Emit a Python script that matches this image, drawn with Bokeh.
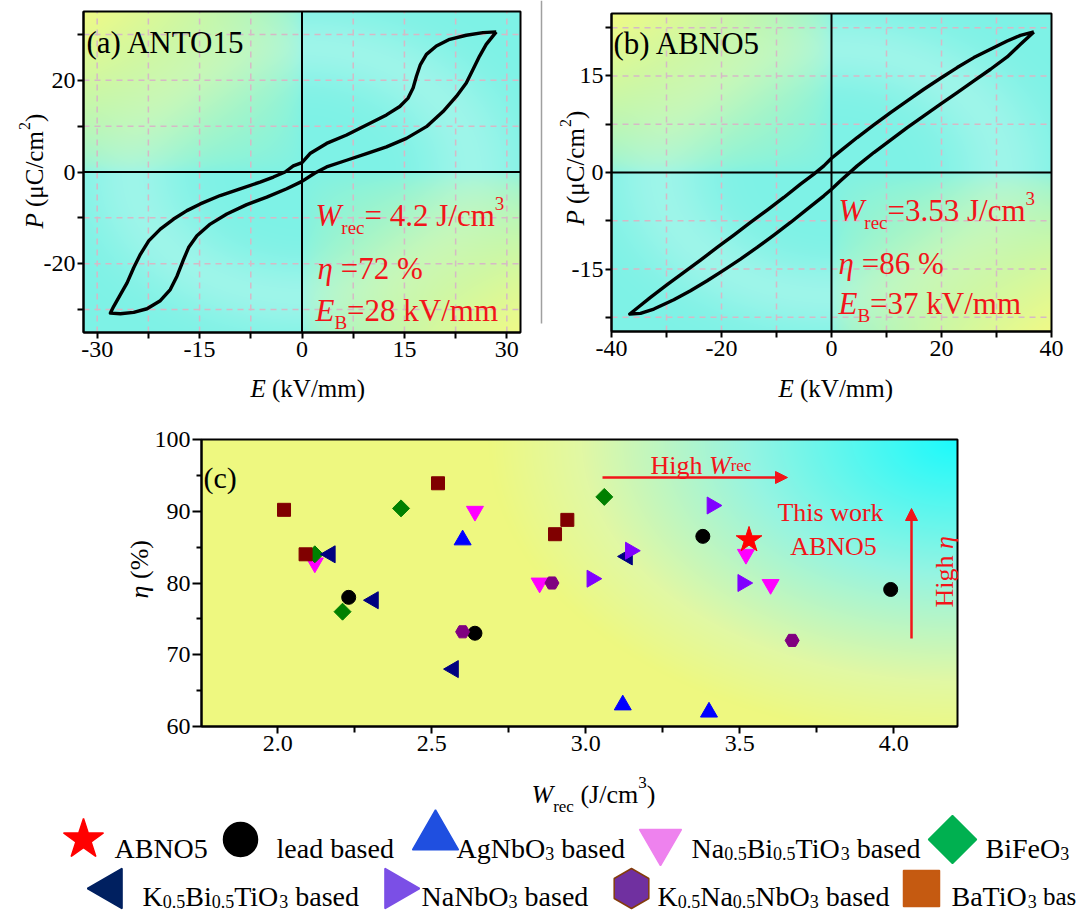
import numpy as np
from bokeh.plotting import figure
from bokeh.models import (Range1d, FixedTicker, Label, Arrow, NormalHead, PrintfTickFormatter,
                          LinearAxis)
from bokeh.embed import file_html
from bokeh.resources import INLINE

# ---------------- data ----------------
# (a) ANTO15 P-E loop (closed outline, E in kV/mm, P in uC/cm2)
anto15_E = [28.45, 26.5, 24.06, 21.63, 19.68, 18.22, 17.34, 16.76, 16.27, 15.54, 14.32, 12.37, 9.45, 6.53,
            3.60, 1.17, 0.0, -1.27, -2.48, -4.19, -6.14, -9.06, -11.98, -14.9, -16.85, -18.8, -20.75,
            -22.45, -23.67, -24.65, -25.62, -26.6, -27.57, -28.06,
            -26.6, -24.65, -22.7, -20.75, -19.29, -18.31, -17.44, -16.61, -15.39, -13.44, -11.01, -8.09,
            -5.16, -2.24, 0.0, 1.9, 3.6, 6.53, 9.45, 12.37, 15.29, 18.22, 20.65, 22.6, 24.06, 25.04, 26.01,
            26.98, 28.45]
anto15_P = [30.55, 30.4, 29.82, 28.94, 27.47, 25.64, 23.44, 20.88, 18.32, 16.12, 14.29, 12.45, 10.26, 8.06,
            6.23, 4.03, 2.05, 1.32, 0.0, -1.10, -2.20, -3.66, -5.13, -6.96, -8.42, -10.26, -12.45,
            -15.02, -17.95, -20.88, -24.18, -26.74, -29.3, -30.77,
            -30.92, -30.62, -29.82, -28.06, -25.64, -22.71, -19.41, -16.48, -13.92, -11.36, -9.16, -7.11,
            -5.49, -3.66, -2.05, -0.22, 1.1, 2.56, 4.03, 5.49, 7.33, 9.89, 13.19, 16.48, 19.41, 22.34, 25.27,
            27.84, 30.55]

# (b) ABNO5 P-E loop
abno5_E = [36.79, 34.36, 31.94, 28.91, 25.88, 22.85, 19.82, 16.79, 13.76, 10.73, 7.70, 4.67, 1.64, 0.0,
           -1.39, -3.21, -5.64, -8.67, -11.7, -14.73, -17.76, -20.79, -23.82, -26.85, -29.88, -32.91,
           -35.03, -36.67,
           -34.73, -32.3, -28.67, -25.64, -22.61, -19.58, -16.55, -13.52, -10.48, -7.45, -4.42, -1.39, 0.0,
           1.64, 4.67, 7.70, 10.73, 13.76, 16.79, 19.82, 22.85, 25.88, 28.91, 31.94, 34.36, 36.79]
abno5_P = [21.83, 21.31, 20.43, 19.14, 17.85, 16.30, 14.64, 12.93, 11.12, 9.31, 7.40, 5.43, 3.36, 2.22,
           1.03, -0.26, -1.81, -3.88, -5.85, -7.76, -9.73, -11.64, -13.61, -15.52, -17.43, -19.40,
           -20.85, -21.99,
           -21.88, -21.21, -19.76, -18.37, -16.81, -15.16, -13.45, -11.64, -9.73, -7.76, -5.69, -3.62, -2.59,
           -1.29, 1.03, 3.10, 5.02, 6.98, 8.79, 10.61, 12.42, 14.23, 16.04, 17.95, 19.92, 21.83]

# (c) W_rec (J/cm3) vs eta (%)
abno5_W, abno5_eta = [3.53], [86.0]
lead_W, lead_eta = [2.23, 2.64, 3.38, 3.99], [78.0, 73.0, 86.5, 79.1]
agnbo3_W, agnbo3_eta = [2.60, 3.12, 3.40], [86.0, 63.0, 62.0]
nbt_W, nbt_eta = [2.12, 2.64, 2.85, 3.52, 3.60], [82.8, 90.0, 80.0, 84.0, 79.8]
bfo_W, bfo_eta = [2.12, 2.21, 2.40, 3.06], [84.0, 76.0, 90.4, 92.0]
kbt_W, kbt_eta = [2.17, 2.31, 2.57, 3.135], [84.0, 77.6, 68.0, 83.7]
nn_W, nn_eta = [3.02, 3.145, 3.41, 3.51], [80.6, 84.5, 90.8, 80.0]
knn_W, knn_eta = [2.60, 2.89, 3.67], [73.2, 80.0, 72.0]
bt_W, bt_eta = [2.02, 2.09, 2.52, 2.90, 2.94], [90.2, 84.0, 93.9, 86.8, 88.8]

# axis ticks
a_xticks, a_xminor, a_yticks, a_yminor = [-30, -15, 0, 15, 30], [-22.5, -7.5, 7.5, 22.5], [-20, 0, 20], [-30, -10, 10, 30]
b_xticks, b_xminor, b_yticks, b_yminor = [-40, -20, 0, 20, 40], [-30, -10, 10, 30], [-15, 0, 15], [-22.5, -7.5, 7.5, 22.5]
c_xticks, c_xminor = [2.0, 2.5, 3.0, 3.5, 4.0], [2.25, 2.75, 3.25, 3.75]
c_yticks, c_yminor = [60, 70, 80, 90, 100], [65, 75, 85, 95]

# ---------------- helpers ----------------
CW, CH = 1078, 912
SERIF = "Liberation Serif"
RED = "#F2141A"
W_N = {' ': 250, '(': 333, ')': 333, '.': 250, '/': 278, '=': 564, '%': 833, '-': 333,
       'A': 722, 'B': 667, 'C': 667, 'E': 611, 'F': 556, 'H': 722, 'J': 389, 'K': 722, 'N': 722,
       'O': 722, 'P': 556, 'T': 611, 'V': 722, 'W': 944,
       'a': 444, 'b': 500, 'c': 444, 'd': 500, 'e': 444, 'g': 500, 'h': 500, 'i': 278, 'k': 500,
       'l': 278, 'm': 778, 'o': 500, 'r': 333, 's': 389, 'w': 722, 'μ': 576, 'η': 500}
W_I = {'W': 833, 'E': 611, 'P': 611, 'η': 500}


def tw(s, size, italic=False):
    tot = 0
    for ch in s:
        if italic and ch in W_I:
            tot += W_I[ch]
        elif ch.isdigit():
            tot += 500
        else:
            tot += W_N.get(ch, 500)
    return tot * size / 1000.0


p = figure(width=CW, height=CH, x_range=Range1d(0, CW), y_range=Range1d(0, CH),
           output_backend="svg", toolbar_location=None, x_axis_type=None, y_axis_type=None,
           min_border=0, background_fill_color="white", border_fill_color="white")
p.outline_line_color = None


def rich(gx, gy, pieces, color="black", angle=0.0, align="left"):
    total = sum(tw(t, s, i) for t, s, i, d in pieces)
    pos = -total / 2 if align == "center" else 0
    for text, size, ital, dy in pieces:
        lead = len(text) - len(text.lstrip(" "))
        pos += lead * 0.25 * size
        t = text.lstrip(" ")
        if angle == 0:
            px, py = gx + pos, gy - dy
        else:
            px, py = gx - dy, gy - pos
        p.add_layout(Label(x=px, y=CH - py, text=t, text_font=SERIF, text_font_size=f"{size}px",
                           text_font_style="italic" if ital else "normal", text_color=color,
                           text_baseline="alphabetic", text_align="left", angle=angle))
        pos += tw(t, size, ital)


def panel(name, L, R, T, B, xr, yr):
    x0, x1 = xr
    y0, y1 = yr
    sx = (x1 - x0) / (R - L)
    sy = (y1 - y0) / (B - T)
    p.extra_x_ranges[name] = Range1d(x0 - L * sx, x0 + (CW - L) * sx)
    p.extra_y_ranges[name] = Range1d(y1 - (CH - T) * sy, y1 + T * sy)
    return dict(x_range_name=name, y_range_name=name)


def axes(rn, xr, yr, xt, xm, yt, ym, xfmt, yfmt, xout, xmout, yout, ymout, xstand, ystand):
    ax = LinearAxis(fixed_location=yr[0], bounds=xr, ticker=FixedTicker(ticks=xt, minor_ticks=xm),
                    formatter=PrintfTickFormatter(format=xfmt), **rn)
    ay = LinearAxis(fixed_location=xr[0], bounds=yr, ticker=FixedTicker(ticks=yt, minor_ticks=ym),
                    formatter=PrintfTickFormatter(format=yfmt), **rn)
    for a, mo, mi, st in ((ax, xout, xmout, xstand), (ay, yout, ymout, ystand)):
        a.axis_label = None
        a.axis_line_width = 2
        a.major_tick_line_width = 2
        a.minor_tick_line_width = 2
        a.major_tick_in = 0
        a.minor_tick_in = 0
        a.major_tick_out = mo
        a.minor_tick_out = mi
        a.major_label_standoff = st
        a.major_label_text_font = SERIF
        a.major_label_text_font_size = "24px"
        a.major_label_text_color = "black"
    p.add_layout(ax, "below")
    p.add_layout(ay, "left")


def mix(a, b, w):
    return a + (b - a) * w[..., None]


def bg_loop(nx, ny):
    u = np.linspace(0, 1, nx)[None, :]
    v = np.linspace(0, 1, ny)[:, None]
    U, V = np.broadcast_arrays(u, v)
    r = np.sqrt((U - .5) ** 2 + (V - .5) ** 2) / 0.707
    cyan = np.array([126, 242, 230], float)
    light = np.array([196, 249, 238], float)
    yellow = np.array([240, 250, 135], float)
    col = np.broadcast_to(cyan, U.shape + (3,)).astype(float)
    wl = 0.45 * np.exp(-((r - 0.55) / 0.16) ** 2)
    col = mix(col, light, wl)
    wy = np.clip(4 * (U - .5) * (V - .5), 0, 1) ** 0.55
    col = mix(col, yellow, wy)
    return col


def bg_c(nx, ny):
    u = np.linspace(0, 1, nx)[None, :]
    v = np.linspace(0, 1, ny)[:, None]
    U, V = np.broadcast_arrays(u, v)
    d = np.sqrt(((1 - U) / 0.62) ** 2 + (V / 1.05) ** 2)
    stops = [(0.0, (28, 250, 252)), (0.45, (150, 244, 226)), (0.8, (225, 248, 165)), (1.0, (238, 248, 128))]
    col = np.zeros(U.shape + (3,))
    for k in range(3):
        col[..., k] = np.interp(d, [s[0] for s in stops], [s[1][k] for s in stops])
    return col


def add_bg(rn, xr, yr, col):
    ny, nx = col.shape[:2]
    arr = np.zeros((ny, nx, 4), dtype=np.uint8)
    arr[..., :3] = np.clip(col, 0, 255).astype(np.uint8)
    arr[..., 3] = 255
    img = arr[::-1].copy().view(dtype=np.uint32).reshape(ny, nx)
    p.image_rgba(image=[img], x=xr[0], y=yr[0], dw=xr[1] - xr[0], dh=yr[1] - yr[0], level="image", **rn)


def dashed_grid(rn, xr, yr, gx, gy):
    p.segment(x0=gx, y0=[yr[0]] * len(gx), x1=gx, y1=[yr[1]] * len(gx), line_color="#D6B9C6",
              line_width=1.5, line_dash="6 5", level="underlay", **rn)
    p.segment(x0=[xr[0]] * len(gy), y0=gy, x1=[xr[1]] * len(gy), y1=gy, line_color="#D6B9C6",
              line_width=1.5, line_dash="6 5", level="underlay", **rn)


def zero_lines(rn, xr, yr):
    p.segment(x0=[0, xr[0]], y0=[yr[0], 0], x1=[0, xr[1]], y1=[yr[1], 0], line_color="black",
              line_width=2, **rn)


def box(rn, xr, yr):
    p.quad(left=[xr[0]], right=[xr[1]], bottom=[yr[0]], top=[yr[1]], fill_color=None,
           line_color="black", line_width=2, **rn)


# ---------------- panel (a) ----------------
A_X, A_Y = (-32, 32), (-35, 35)
ra = panel("a", 83, 520, 11, 332, A_X, A_Y)
add_bg(ra, A_X, A_Y, bg_loop(437, 321))
dashed_grid(ra, A_X, A_Y, sorted(a_xticks + a_xminor), sorted(a_yticks + a_yminor))
zero_lines(ra, A_X, A_Y)
p.line(anto15_E, anto15_P, line_color="black", line_width=3.4, line_join="round", **ra)
box(ra, A_X, A_Y)
axes(ra, A_X, A_Y, a_xticks, a_xminor, a_yticks, a_yminor, "%d", "%d", 6, 6, 6, 6, 3, 2)
rich(86, 42, [("(a) ANTO15", 31, False, 0)])
rich(315, 215, [("W", 31, True, 0), ("rec", 19, False, -12), ("= 4.2 J/cm", 31, False, 0),
                ("3", 19, False, 12)], color=RED)
rich(317, 268, [("η", 31, True, 0), (" =72 %", 31, False, 0)], color=RED)
rich(315, 310, [("E", 31, True, 0), ("B", 19, False, -12), ("=28 kV/mm", 31, False, 0)], color=RED)
rich(250, 388, [("E", 25, True, 0), (" (kV/mm)", 25, False, 0)])
rich(34, 228, [("P", 25, True, 0), (" (μC/cm", 25, False, 0), ("2", 16, False, 10),
               (")", 25, False, 0)], angle=np.pi / 2)

# separator line between (a) and (b)
p.segment(x0=[541], y0=[CH], x1=[541], y1=[CH - 323], line_color="#A0A0A0", line_width=1.5)

# ---------------- panel (b) ----------------
B_X, B_Y = (-40, 40), (-24.7, 24.7)
rb = panel("b", 611, 1051, 13, 331, B_X, B_Y)
add_bg(rb, B_X, B_Y, bg_loop(440, 318))
dashed_grid(rb, B_X, B_Y, sorted(b_xminor + [-20, 20]), sorted(b_yminor + [-15, 15]))
zero_lines(rb, B_X, B_Y)
p.line(abno5_E, abno5_P, line_color="black", line_width=3.4, line_join="round", **rb)
box(rb, B_X, B_Y)
axes(rb, B_X, B_Y, b_xticks, b_xminor, b_yticks, b_yminor, "%d", "%d", 6, 6, 6, 6, 3, 2)
rich(613, 43, [("(b) ABNO5", 31, False, 0)])
rich(838, 210, [("W", 31, True, 0), ("rec", 19, False, -12), ("=3.53 J/cm", 31, False, 0),
                ("3", 19, False, 12)], color=RED)
rich(838, 263, [("η", 31, True, 0), (" =86 %", 31, False, 0)], color=RED)
rich(838, 303, [("E", 31, True, 0), ("B", 19, False, -12), ("=37 kV/mm", 31, False, 0)], color=RED)
rich(778, 388, [("E", 25, True, 0), (" (kV/mm)", 25, False, 0)])
rich(575, 225, [("P", 25, True, 0), (" (μC/cm", 25, False, 0), ("2", 16, False, 10),
                (")", 25, False, 0)], angle=np.pi / 2)

# ---------------- panel (c) ----------------
C_X, C_Y = (1.752, 4.207), (60, 100)
rc = panel("c", 201, 957, 439, 726, C_X, C_Y)
add_bg(rc, C_X, C_Y, bg_c(756, 287))

groups = [
    (lead_W, lead_eta, "circle", 14, "#000000", 0.0),
    (agnbo3_W, agnbo3_eta, "triangle", 17, "#0000FF", 0.0),
    (nbt_W, nbt_eta, "inverted_triangle", 17, "#FF00FF", 0.0),
    (bfo_W, bfo_eta, "square", 12, "#008000", np.pi / 4),
    (kbt_W, kbt_eta, "triangle", 17, "#000080", np.pi / 2),
    (nn_W, nn_eta, "triangle", 17, "#8000FF", -np.pi / 2),
    (knn_W, knn_eta, "hex", 14, "#800080", 0.0),
    (bt_W, bt_eta, "square", 13, "#800000", 0.0),
    (abno5_W, abno5_eta, "star", 27, "#FF0000", 0.0),
]
for xs, ys, mk, sz, colr, ang in groups:
    p.scatter(xs, ys, marker=mk, size=sz, fill_color=colr, line_color=colr, angle=ang, **rc)
box(rc, C_X, C_Y)
axes(rc, C_X, C_Y, c_xticks, c_xminor, c_yticks, c_yminor, "%.1f", "%d", 7, 6, 9, 5, 2, 2)

rich(203, 477, [("(c)", 30, False, 0)])
rich(650, 465, [("High ", 26, False, 0), ("W", 26, True, 0), ("rec", 17, False, 0)], color=RED)
p.add_layout(Arrow(end=NormalHead(size=12, fill_color=RED, line_color=RED), x_start=602, y_start=CH - 477,
                   x_end=787, y_end=CH - 477, line_color=RED, line_width=2.5))
rich(830, 512, [("This work", 26, False, 0)], color=RED, align="center")
rich(833, 546, [("ABNO5", 26, False, 0)], color=RED, align="center")
p.add_layout(Arrow(end=NormalHead(size=12, fill_color=RED, line_color=RED), x_start=911, y_start=CH - 638,
                   x_end=911, y_end=CH - 508, line_color=RED, line_width=2.5))
rich(944, 607, [("High ", 26, False, 0), ("η", 26, True, 0)], color=RED, angle=np.pi / 2)
rich(531, 794, [("W", 26, True, 0), ("rec", 17, False, -12), (" (J/cm", 26, False, 0),
                ("3", 17, False, 12), (")", 26, False, 0)])
rich(139, 598, [("η", 26, True, 0), (" (%)", 26, False, 0)], angle=np.pi / 2)

# ---------------- legend ----------------
leg_marks = [
    (83, 839, "star", 42, "#FF0000", "#FF0000", 0.0),
    (240, 839, "circle", 34, "#000000", "#000000", 0.0),
    (435, 836, "triangle", 46, "#1F4FE0", "#1F4FE0", 0.0),
    (660, 841, "inverted_triangle", 42, "#EE82EE", "#EE82EE", 0.0),
    (952, 839, "square", 34, "#00B050", "#00B050", np.pi / 4),
    (110, 888, "triangle", 40, "#002060", "#002060", np.pi / 2),
    (396, 888, "triangle", 40, "#7B4FE6", "#7B4FE6", -np.pi / 2),
    (631, 888, "hex", 40, "#7030A0", "#843C0C", np.pi / 2),
    (921, 888, "square", 36, "#C55A11", "#C55A11", 0.0),
]
for gx, gy, mk, sz, fc, lc, ang in leg_marks:
    p.scatter([gx], [CH - gy], marker=mk, size=sz, fill_color=fc, line_color=lc, line_width=1.5, angle=ang)

F, S, D = 28, 18, -5
leg_texts = [
    (114, 848, [("ABNO5", F, False, 0)]),
    (276, 848, [("lead based", F, False, 0)]),
    (456, 848, [("AgNbO", F, False, 0), ("3", S, False, D), (" based", F, False, 0)]),
    (691, 848, [("Na", F, False, 0), ("0.5", S, False, D), ("Bi", F, False, 0), ("0.5", S, False, D),
                ("TiO", F, False, 0), ("3", S, False, D), (" based", F, False, 0)]),
    (985, 848, [("BiFeO", F, False, 0), ("3", S, False, D)]),
    (142, 896, [("K", F, False, 0), ("0.5", S, False, D), ("Bi", F, False, 0), ("0.5", S, False, D),
                ("TiO", F, False, 0), ("3", S, False, D), (" based", F, False, 0)]),
    (421, 896, [("NaNbO", F, False, 0), ("3", S, False, D), (" based", F, False, 0)]),
    (657, 896, [("K", F, False, 0), ("0.5", S, False, D), ("Na", F, False, 0), ("0.5", S, False, D),
                ("NbO", F, False, 0), ("3", S, False, D), (" based", F, False, 0)]),
    (951, 896, [("BaTiO", F, False, 0), ("3", S, False, D), (" bas", 25, False, 0)]),
]
for gx, gy, pieces in leg_texts:
    rich(gx, gy, pieces)

open("out.html", "w").write(file_html(p, INLINE))
